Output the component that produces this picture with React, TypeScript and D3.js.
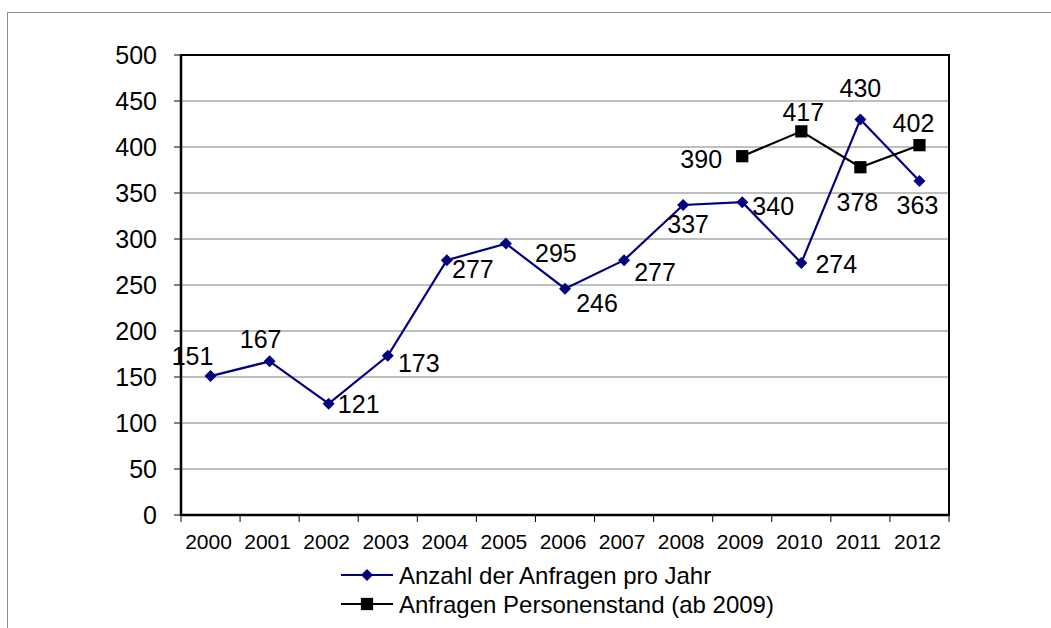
import * as d3 from 'd3';
import React, { useEffect, useRef } from 'react';

const years = ['2000', '2001', '2002', '2003', '2004', '2005', '2006', '2007', '2008', '2009', '2010', '2011', '2012'];
const anfragenProJahr = [151, 167, 121, 173, 277, 295, 246, 277, 337, 340, 274, 430, 363];
const personenstandYears = ['2009', '2010', '2011', '2012'];
const personenstand = [390, 417, 378, 402];
const yTicks = [0, 50, 100, 150, 200, 250, 300, 350, 400, 450, 500];
const seriesNames = ['Anzahl der Anfragen pro Jahr', 'Anfragen Personenstand (ab 2009)'];

// hand-placed label offsets (text centre / baseline relative to the point)
const labelOffsets1: [number, number][] = [
    [-18, -11], [-9, -13], [30, 9], [31, 16], [26, 18], [50, 18], [32, 23],
    [31, 21], [5, 28], [31, 13], [35, 10], [0, -22], [-2, 33]
];
const labelOffsets2: [number, number][] = [[-41, 12], [2, -10], [-3, 44], [-6, -13]];

const NAVY = '#000080';
const FONT = '"Liberation Sans", Arial, sans-serif';

const App: React.FC = () => {
    const svgRef = useRef<SVGSVGElement>(null);

    useEffect(() => {
        if (!svgRef.current) return;
        d3.select(svgRef.current).selectAll('*').remove();

        const width = 1051;
        const height = 628;
        const left = 181, right = 949, top = 55, bottom = 515;

        const svg = d3.select(svgRef.current)
            .attr('width', width)
            .attr('height', height)
            .style('font-family', FONT);

        // outer chart border (runs off the canvas right / bottom)
        svg.append('rect')
            .attr('x', 7.5).attr('y', 12.5)
            .attr('width', width + 20).attr('height', height + 20)
            .attr('fill', '#fff')
            .attr('stroke', '#8c8c8c')
            .attr('stroke-width', 1);

        const x = d3.scaleBand().domain(years).range([left, right]);
        const y = d3.scaleLinear().domain([0, 500]).range([bottom, top]);
        const cx = (yr: string) => (x(yr) as number) + x.bandwidth() / 2;

        // gridlines
        svg.append('g')
            .selectAll('line')
            .data(yTicks.slice(1, -1))
            .join('line')
            .attr('x1', left).attr('x2', right)
            .attr('y1', d => y(d)).attr('y2', d => y(d))
            .attr('stroke', '#808080')
            .attr('stroke-width', 1.2);

        // plot frame
        svg.append('rect')
            .attr('x', left).attr('y', top)
            .attr('width', right - left).attr('height', bottom - top)
            .attr('fill', 'none')
            .attr('stroke', '#000')
            .attr('stroke-width', 2);
        svg.append('line')
            .attr('x1', left).attr('x2', left).attr('y1', top).attr('y2', bottom + 1)
            .attr('stroke', '#000').attr('stroke-width', 2.5);
        svg.append('line')
            .attr('x1', left).attr('x2', right).attr('y1', bottom).attr('y2', bottom)
            .attr('stroke', '#000').attr('stroke-width', 2.5);

        // y axis ticks and labels
        const yAxis = svg.append('g');
        yAxis.selectAll('line')
            .data(yTicks)
            .join('line')
            .attr('x1', left - 7).attr('x2', left)
            .attr('y1', d => y(d)).attr('y2', d => y(d))
            .attr('stroke', '#000').attr('stroke-width', 1);
        yAxis.selectAll('text')
            .data(yTicks)
            .join('text')
            .attr('x', 157)
            .attr('y', d => y(d))
            .attr('dy', '0.36em')
            .attr('text-anchor', 'end')
            .attr('font-size', 25)
            .attr('fill', '#000')
            .text(d => d);

        // x axis ticks and labels
        const xAxis = svg.append('g');
        xAxis.selectAll('line')
            .data([...years.map(yr => x(yr) as number), right])
            .join('line')
            .attr('x1', d => d).attr('x2', d => d)
            .attr('y1', bottom).attr('y2', bottom + 7)
            .attr('stroke', '#000').attr('stroke-width', 1);
        xAxis.selectAll('text')
            .data(years)
            .join('text')
            .attr('x', d => cx(d) - 2)
            .attr('y', 549)
            .attr('text-anchor', 'middle')
            .attr('font-size', 21)
            .attr('fill', '#000')
            .text(d => d);

        const diamond = d3.symbol().type(d3.symbolDiamond2).size(92);
        const square = d3.symbol().type(d3.symbolSquare).size(150);

        // series 1
        const line1 = d3.line<number>()
            .x((_, i) => cx(years[i]))
            .y(d => y(d));
        svg.append('path')
            .datum(anfragenProJahr)
            .attr('d', line1)
            .attr('fill', 'none')
            .attr('stroke', NAVY)
            .attr('stroke-width', 2.2);
        svg.append('g')
            .selectAll('path')
            .data(anfragenProJahr)
            .join('path')
            .attr('d', diamond)
            .attr('transform', (d, i) => `translate(${cx(years[i])},${y(d)})`)
            .attr('fill', NAVY);

        // series 2
        const line2 = d3.line<number>()
            .x((_, i) => cx(personenstandYears[i]))
            .y(d => y(d));
        svg.append('path')
            .datum(personenstand)
            .attr('d', line2)
            .attr('fill', 'none')
            .attr('stroke', '#000')
            .attr('stroke-width', 2.2);
        svg.append('g')
            .selectAll('path')
            .data(personenstand)
            .join('path')
            .attr('d', square)
            .attr('transform', (d, i) => `translate(${cx(personenstandYears[i])},${y(d)})`)
            .attr('fill', '#000');

        // data labels
        svg.append('g')
            .selectAll('text')
            .data(anfragenProJahr)
            .join('text')
            .attr('x', (d, i) => cx(years[i]) + labelOffsets1[i][0])
            .attr('y', (d, i) => y(d) + labelOffsets1[i][1])
            .attr('text-anchor', 'middle')
            .attr('font-size', 25)
            .attr('fill', '#000')
            .text(d => d);
        svg.append('g')
            .selectAll('text')
            .data(personenstand)
            .join('text')
            .attr('x', (d, i) => cx(personenstandYears[i]) + labelOffsets2[i][0])
            .attr('y', (d, i) => y(d) + labelOffsets2[i][1])
            .attr('text-anchor', 'middle')
            .attr('font-size', 25)
            .attr('fill', '#000')
            .text(d => d);

        // legend
        const legend = svg.append('g');
        const legendRows = [
            { name: seriesNames[0], color: NAVY, marker: diamond, yPos: 575 },
            { name: seriesNames[1], color: '#000', marker: square, yPos: 604 }
        ];
        legendRows.forEach((row) => {
            legend.append('line')
                .attr('x1', 341).attr('x2', 393)
                .attr('y1', row.yPos).attr('y2', row.yPos)
                .attr('stroke', row.color)
                .attr('stroke-width', 2.2);
            legend.append('path')
                .attr('d', row.marker)
                .attr('transform', `translate(367,${row.yPos})`)
                .attr('fill', row.color);
            legend.append('text')
                .attr('x', 399)
                .attr('y', row.yPos)
                .attr('dy', '0.36em')
                .attr('font-size', 24)
                .attr('fill', '#000')
                .text(row.name);
        });
    }, []);

    return (
        <div>
            <svg ref={svgRef}></svg>
            <style>{`
        body { margin: 0; }
        svg { display: block; }
      `}</style>
        </div>
    );
};

export default App;
